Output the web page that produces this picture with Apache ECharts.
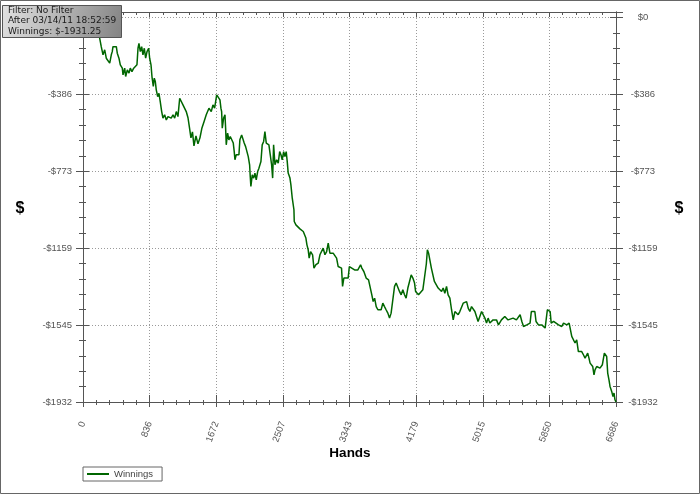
<!DOCTYPE html>
<html><head><meta charset="utf-8">
<script src="https://cdn.jsdelivr.net/npm/echarts@6/dist/echarts.min.js"></script>
<style>html,body{margin:0;padding:0;background:#fff}#c{width:700px;height:494px}</style>
</head><body><div id="c"></div>
<script>
const seriesName = 'Winnings';
const xTitle = 'Hands';
const yTitle = '$';
const infoLines = ['Filter: No Filter', 'After 03/14/11 18:52:59', 'Winnings: $-1931.25'];
const xTickLabels = ['0','836','1672','2507','3343','4179','5015','5850','6686'];
const yTickLabels = ['$0','-$386','-$773','-$1159','-$1545','-$1932'];

const hands = [
0,50,100,150,188,209,229,251,272,292,
313,335,355,367,376,398,418,430,451,468,
493,502,523,535,556,577,593,614,636,656,
677,690,702,719,736,752,769,786,803,824,
836,853,865,882,894,907,919,937,953,969,
987,1003,1024,1045,1066,1087,1107,1129,1150,1170,
1191,1213,1233,1254,1275,1295,1317,1336,1354,1373,
1392,1417,1442,1467,1492,1517,1546,1580,1609,1630,
1651,1677,1697,1718,1730,1739,1747,1764,1781,1789,
1797,1814,1830,1847,1864,1885,1897,1906,1922,1940,
1956,1968,1990,2010,2022,2040,2056,2073,2090,2098,
2106,2123,2141,2157,2173,2191,2207,2220,2232,2248,
2266,2282,2299,2316,2332,2349,2366,2379,2391,2408,
2429,2449,2467,2483,2499,2517,2533,2549,2562,2574,
2596,2608,2625,2637,2646,2650,2671,2696,2721,2742,
2763,2784,2796,2809,2825,2837,2855,2880,2897,2922,
2951,2972,2993,3013,3035,3056,3076,3097,3118,3138,
3159,3181,3201,3222,3243,3256,3272,3297,3326,3341,
3364,3407,3448,3482,3498,3523,3552,3582,3607,3623,
3640,3658,3678,3699,3720,3740,3761,3782,3802,3824,
3845,3865,3886,3908,3928,3949,3970,3991,4012,4033,
4053,4075,4096,4117,4138,4159,4172,4187,4209,4234,
4263,4288,4307,4320,4335,4351,4370,4393,4408,4433,
4455,4477,4498,4518,4539,4560,4580,4602,4623,4644,
4665,4686,4706,4727,4749,4769,4790,4812,4832,4853,
4874,4894,4916,4936,4956,4977,5000,5020,5041,5062,
5082,5103,5124,5144,5165,5187,5212,5228,5249,5270,
5291,5312,5332,5354,5395,5437,5462,5483,5505,5526,
5567,5608,5624,5668,5683,5713,5755,5797,5816,5825,
5860,5873,5903,5923,5965,6006,6028,6069,6098,6123,
6131,6152,6172,6193,6214,6235,6256,6277,6298,6331,
6347,6361,6381,6394,6410,6423,6444,6485,6515,6540,
6557,6569,6582,6598,6611,6632,6648,6661,6673,6686
];

const winnings = [
0,-33,-58,-43,-83,-104,-147,-188,-163,-205,
-197,-230,-188,-172,-147,-155,-147,-180,-205,-238,
-255,-289,-255,-297,-264,-280,-255,-272,-255,-252,
-238,-155,-130,-172,-147,-188,-155,-205,-172,-155,
-205,-238,-297,-347,-305,-322,-364,-398,-381,-423,
-473,-506,-489,-515,-498,-489,-506,-489,-506,-473,
-498,-406,-398,-439,-448,-473,-504,-555,-605,-575,
-645,-595,-635,-605,-555,-525,-489,-456,-473,-439,
-456,-389,-398,-414,-456,-473,-556,-506,-489,-556,
-640,-581,-615,-598,-606,-631,-674,-715,-690,-699,
-690,-615,-590,-598,-631,-649,-657,-699,-740,-799,
-849,-791,-807,-782,-816,-774,-757,-749,-724,-640,
-623,-573,-631,-623,-640,-690,-740,-807,-640,-740,
-715,-732,-674,-690,-715,-674,-699,-674,-724,-782,
-807,-841,-908,-900,-966,-1025,-1042,-1052,-1062,-1058,
-1075,-1075,-1108,-1142,-1167,-1209,-1176,-1192,-1259,-1242,
-1234,-1192,-1201,-1159,-1192,-1176,-1134,-1184,-1192,-1184,
-1192,-1209,-1251,-1242,-1259,-1351,-1309,-1318,-1309,-1251,
-1259,-1268,-1268,-1242,-1259,-1276,-1309,-1318,-1326,-1393,
-1427,-1410,-1452,-1468,-1460,-1468,-1435,-1452,-1468,-1485,
-1510,-1485,-1477,-1351,-1334,-1343,-1376,-1393,-1368,-1393,
-1410,-1359,-1326,-1293,-1309,-1334,-1376,-1385,-1393,-1385,
-1368,-1376,-1237,-1167,-1184,-1192,-1259,-1268,-1326,-1334,
-1359,-1351,-1376,-1359,-1385,-1351,-1393,-1410,-1468,-1519,
-1477,-1485,-1493,-1477,-1468,-1435,-1427,-1427,-1460,-1477,
-1452,-1460,-1477,-1502,-1527,-1519,-1477,-1485,-1510,-1535,
-1510,-1535,-1527,-1519,-1527,-1519,-1544,-1552,-1519,-1527,
-1502,-1510,-1519,-1510,-1510,-1519,-1527,-1493,-1527,-1552,
-1544,-1535,-1477,-1477,-1527,-1544,-1544,-1560,-1569,-1468,
-1477,-1535,-1527,-1535,-1544,-1552,-1535,-1544,-1535,-1544,
-1602,-1610,-1635,-1619,-1678,-1686,-1678,-1694,-1711,-1686,
-1711,-1736,-1728,-1753,-1795,-1770,-1753,-1761,-1744,-1686,
-1678,-1703,-1786,-1820,-1853,-1878,-1904,-1886,-1920,-1931.25
];

const X_MAX = 6686, X_STEP = X_MAX / 8;
const Y_MIN = -1931.25, Y_STEP = 1931.25 / 5, Y_MAX = 27;
const AX = '#555';
const labelFont = '"Liberation Sans", Arial, sans-serif';

const chart = echarts.init(document.getElementById('c'), null, {renderer: 'canvas'});

function xAx(extra) {
  return Object.assign({
    type: 'value', min: 0, max: X_MAX, interval: X_STEP,
    axisLine: {show: true, onZero: false, lineStyle: {color: AX, width: 1}},
    axisLabel: {show: false}, splitLine: {show: false}
  }, extra);
}
function yAx(extra) {
  return Object.assign({
    type: 'value', min: Y_MIN, max: Y_MAX, interval: Y_STEP,
    axisLine: {show: true, onZero: false, lineStyle: {color: AX, width: 1}},
    axisLabel: {show: false}, splitLine: {show: false}
  }, extra);
}
const gridDots = {show: true, lineStyle: {color: '#9a9a9a', width: 1, type: [1, 2]}};
const yFmt = v => (v > 0.5 ? '' : yTickLabels[Math.round(-v / Y_STEP)]);

chart.setOption({
  animation: false,
  backgroundColor: '#fff',
  grid: {left: 83, right: 84, top: 12, bottom: 92, containLabel: false},
  xAxis: [
    xAx({position: 'bottom',
      axisTick: {show: true, inside: false, length: 5, lineStyle: {color: AX}},
      minorTick: {show: true, splitNumber: 5, length: 3, lineStyle: {color: AX}},
      axisLabel: {show: true, rotate: 70, margin: 20, fontSize: 9.5, color: '#555', fontFamily: labelFont,
        formatter: v => xTickLabels[Math.round(v / X_STEP)]},
      splitLine: gridDots}),
    xAx({position: 'bottom',
      axisTick: {show: true, inside: true, length: 7, lineStyle: {color: AX}},
      minorTick: {show: true, splitNumber: 5, length: 2, lineStyle: {color: AX}}}),
    xAx({position: 'top',
      axisTick: {show: true, inside: true, length: 5, lineStyle: {color: AX}},
      minorTick: {show: true, splitNumber: 5, length: 3, lineStyle: {color: AX}}})
  ],
  yAxis: [
    yAx({position: 'left',
      axisTick: {show: true, inside: false, length: 7, lineStyle: {color: AX}},
      minorTick: {show: true, splitNumber: 5, length: 4, lineStyle: {color: AX}},
      axisLabel: {show: true, margin: 11, fontSize: 9.5, color: '#555', fontFamily: labelFont,
        showMaxLabel: false, formatter: yFmt},
      splitLine: gridDots}),
    yAx({position: 'left',
      axisTick: {show: true, inside: true, length: 6, lineStyle: {color: AX}},
      minorTick: {show: true, splitNumber: 5, length: 3, lineStyle: {color: AX}}}),
    yAx({position: 'right',
      axisTick: {show: true, inside: false, length: 7, lineStyle: {color: AX}},
      minorTick: {show: true, splitNumber: 5, length: 4, lineStyle: {color: AX}},
      axisLabel: {show: true, margin: 27, align: 'center', fontSize: 9.5, color: '#555', fontFamily: labelFont,
        showMaxLabel: false, formatter: yFmt}}),
    yAx({position: 'right',
      axisTick: {show: true, inside: true, length: 6, lineStyle: {color: AX}},
      minorTick: {show: true, splitNumber: 5, length: 3, lineStyle: {color: AX}}})
  ],
  legend: {
    left: 83, top: 467, orient: 'horizontal',
    borderColor: '#666', borderWidth: 1, borderRadius: 0,
    padding: [2, 9, 2, 4], itemWidth: 22, itemHeight: 2, icon: 'rect',
    textStyle: {fontSize: 9.5, color: '#444', fontFamily: labelFont},
    data: [seriesName]
  },
  series: [{
    name: seriesName, type: 'line', xAxisIndex: 0, yAxisIndex: 0,
    data: hands.map((h, i) => [h, winnings[i]]),
    showSymbol: false, symbol: 'none',
    color: '#006600',
    lineStyle: {color: '#006600', width: 1.5},
    z: 5
  }],
  graphic: [
    {type: 'text', x: 350, y: 453, z: 50,
      style: {text: xTitle, align: 'center', verticalAlign: 'middle',
        font: 'bold 13.5px "Liberation Sans", Arial, sans-serif', fill: '#000'}},
    {type: 'text', x: 20, y: 209, z: 50,
      style: {text: yTitle, align: 'center', verticalAlign: 'middle',
        font: 'bold 16px "Liberation Sans", Arial, sans-serif', fill: '#000'}},
    {type: 'text', x: 679, y: 209, z: 50,
      style: {text: yTitle, align: 'center', verticalAlign: 'middle',
        font: 'bold 16px "Liberation Sans", Arial, sans-serif', fill: '#000'}},
    {type: 'rect', z: 100, silent: true,
      shape: {x: 2.5, y: 5.5, width: 119, height: 32},
      style: {
        fill: new echarts.graphic.LinearGradient(0, 0, 1, 1, [
          {offset: 0, color: '#e2e2e2'}, {offset: 1, color: '#838383'}]),
        stroke: '#555', lineWidth: 1}},
    {type: 'text', z: 101, silent: true, x: 8, y: 4.8,
      style: {text: infoLines.join('\n'), align: 'left', verticalAlign: 'top',
        font: '9px "DejaVu Sans"', lineHeight: 10.8, fill: '#1a1a1a'}},
    {type: 'rect', z: 102, silent: true,
      shape: {x: 0.5, y: 0.5, width: 699, height: 493},
      style: {fill: null, stroke: '#666', lineWidth: 1}}
  ]
});
</script>
</body></html>
